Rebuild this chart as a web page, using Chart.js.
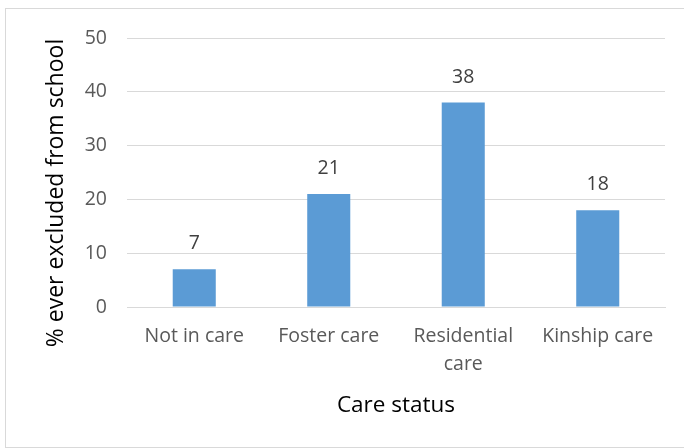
<!DOCTYPE html>
<html>
<head>
<meta charset="utf-8">
<script src="https://cdn.jsdelivr.net/npm/chart.js@4"></script>
<style>
  html, body { margin: 0; padding: 0; background: #fff; }
  #wrap { position: relative; width: 684px; height: 448px; overflow: hidden; }
  #frame { position: absolute; left: 5px; top: 8px; width: 684px; height: 440px;
           border: 1px solid #d9d9d9; box-sizing: border-box; }
  #chart { position: absolute; left: 0; top: 0; }
</style>
</head>
<body>
<div id="wrap">
  <div id="frame"></div>
  <canvas id="chart" width="684" height="448"></canvas>
</div>
<script>
const categories = [['Not in care'], ['Foster care'], ['Residential', 'care'], ['Kinship care']];
const excluded = [7, 21, 38, 18];
const yTicks = [0, 10, 20, 30, 40, 50];
const yTitle = '% ever excluded from school';

const FONT = "'Open Sans', 'Noto Sans', sans-serif";

// values above the bars + the y title (sits a bit lower than the plot centre)
const extras = {
  id: 'extras',
  afterDatasetsDraw(chart) {
    const ctx = chart.ctx;
    const meta = chart.getDatasetMeta(0);
    ctx.save();
    ctx.font = '19.5px ' + FONT;
    ctx.fillStyle = '#404040';
    ctx.textAlign = 'center';
    ctx.textBaseline = 'alphabetic';
    meta.data.forEach((bar, i) => {
      ctx.fillText(excluded[i], bar.x, bar.y - 20);
    });
    ctx.restore();

    ctx.save();
    ctx.translate(56, 193);
    ctx.rotate(-Math.PI / 2);
    ctx.font = '23px ' + FONT;
    ctx.fillStyle = '#000';
    ctx.textAlign = 'center';
    ctx.textBaseline = 'middle';
    ctx.fillText(yTitle, 0, 0);
    ctx.restore();
  }
};

new Chart(document.getElementById('chart').getContext('2d'), {
  type: 'bar',
  data: {
    labels: categories,
    datasets: [{
      data: excluded,
      backgroundColor: '#5b9bd5',
      barPercentage: 0.32,
      categoryPercentage: 1
    }]
  },
  options: {
    responsive: false,
    animation: false,
    layout: { padding: { top: 38, right: 19, left: 44, bottom: 29 } },
    plugins: { legend: { display: false }, tooltip: { enabled: false } },
    scales: {
      x: {
        grid: { display: false, drawTicks: false },
        border: { display: true, color: '#d9d9d9' },
        ticks: { color: '#595959', padding: 15, font: { family: FONT, size: 19.5, lineHeight: 1.45 }, maxRotation: 0 },
        title: { display: true, text: 'Care status', color: '#000', font: { family: FONT, size: 22.5 }, padding: 0 },
        afterFit(scale) { scale.height = 448 - 307 - 29; }
      },
      y: {
        min: 0, max: 50,
        afterBuildTicks(scale) { scale.ticks = yTicks.map(v => ({ value: v })); },
        grid: { color: '#d9d9d9', drawTicks: false },
        border: { display: false },
        ticks: { color: '#595959', padding: 20, font: { family: FONT, size: 19.5 } },
        afterFit(scale) { scale.width = 127 - 44; }
      }
    }
  },
  plugins: [extras]
});
</script>
</body>
</html>
